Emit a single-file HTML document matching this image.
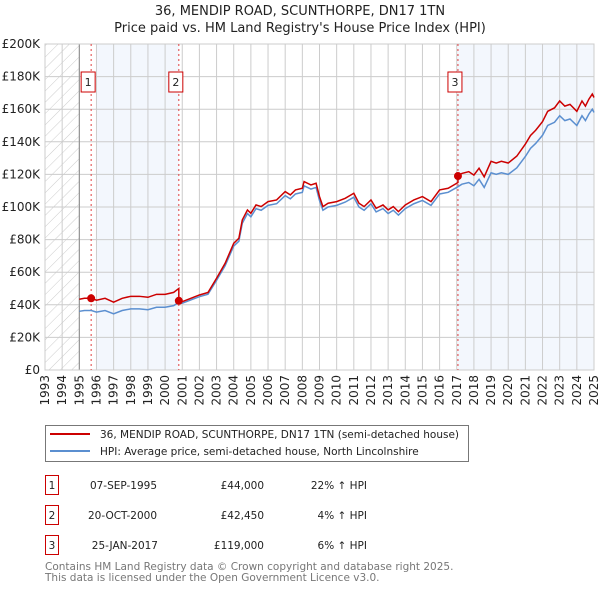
<!DOCTYPE html>
<html><head><meta charset="utf-8"><style>
body{margin:0;background:#fff;font-family:"DejaVu Sans","Liberation Sans",sans-serif;}
#wrap{position:relative;width:600px;height:590px;overflow:hidden;}
</style></head><body>
<div id="wrap">
<svg id="chart" width="600" height="590" xmlns="http://www.w3.org/2000/svg" font-family="DejaVu Sans, Liberation Sans, sans-serif">
<text x="300" y="15" text-anchor="middle" font-size="13" fill="#222">36, MENDIP ROAD, SCUNTHORPE, DN17 1TN</text>
<text x="300" y="32" text-anchor="middle" font-size="13" fill="#222">Price paid vs. HM Land Registry's House Price Index (HPI)</text>
<defs><pattern id="hatch" width="8" height="8" patternUnits="userSpaceOnUse" patternTransform="rotate(45)"><line x1="0" y1="0" x2="0" y2="8" stroke="#ccc" stroke-width="1"/></pattern></defs>
<g id="plot"></g>
<g>
<rect x="45.5" y="425.5" width="423" height="36" fill="#fff" stroke="#777"/>
<line x1="50" y1="434" x2="90" y2="434" stroke="#cc0000" stroke-width="2"/>
<text x="100" y="438" font-size="10.5" fill="#222">36, MENDIP ROAD, SCUNTHORPE, DN17 1TN (semi-detached house)</text>
<line x1="50" y1="451" x2="90" y2="451" stroke="#5b8fd0" stroke-width="2"/>
<text x="100" y="455" font-size="10.5" fill="#222">HPI: Average price, semi-detached house, North Lincolnshire</text>
</g>
<g font-size="10.5" fill="#222">
<rect x="45.5" y="475.5" width="13" height="19" fill="#fff" stroke="#cc0000"/><text x="52" y="489" text-anchor="middle">1</text>
<text x="157" y="489" text-anchor="end">07-SEP-1995</text><text x="264" y="489" text-anchor="end">£44,000</text><text x="367" y="489" text-anchor="end">22% ↑ HPI</text>
<rect x="45.5" y="505.5" width="13" height="19" fill="#fff" stroke="#cc0000"/><text x="52" y="519" text-anchor="middle">2</text>
<text x="157" y="519" text-anchor="end">20-OCT-2000</text><text x="264" y="519" text-anchor="end">£42,450</text><text x="367" y="519" text-anchor="end">4% ↑ HPI</text>
<rect x="45.5" y="535.5" width="13" height="19" fill="#fff" stroke="#cc0000"/><text x="52" y="549" text-anchor="middle">3</text>
<text x="158" y="549" text-anchor="end">25-JAN-2017</text><text x="264" y="549" text-anchor="end">£119,000</text><text x="367" y="549" text-anchor="end">6% ↑ HPI</text>
</g>
<text x="45" y="570" font-size="10.5" fill="#777">Contains HM Land Registry data © Crown copyright and database right 2025.</text>
<text x="45" y="581" font-size="10.5" fill="#777">This data is licensed under the Open Government Licence v3.0.</text>
</svg>
</div>
<script>
const hpiYears=[1995,1995.3,1995.7,1996,1996.5,1997,1997.5,1998,1998.5,1999,1999.5,2000,2000.5,2000.8,2001,2001.5,2002,2002.5,2003,2003.5,2004,2004.3,2004.5,2004.8,2005,2005.3,2005.6,2006,2006.5,2007,2007.3,2007.6,2008,2008.1,2008.5,2008.8,2009,2009.2,2009.5,2010,2010.5,2011,2011.3,2011.6,2012,2012.3,2012.7,2013,2013.3,2013.6,2014,2014.5,2015,2015.5,2016,2016.5,2017,2017.3,2017.7,2018,2018.3,2018.6,2019,2019.3,2019.6,2020,2020.5,2021,2021.3,2021.6,2022,2022.3,2022.7,2023,2023.3,2023.6,2024,2024.3,2024.5,2024.7,2024.9,2025];
const hpiValues=[36,36.5,36.5,35.5,36.5,34.5,36.5,37.5,37.5,37,38.5,38.5,39.5,41.5,41,43,45,46.5,55,64,76,79,90,96,94,99,98,101,102,107,105,108,109,113,111,112,104,98,100,101,103,106,100,98,102,97,99,96,98,95,99,102,104,101,108,109,112,114,115,113,117,112,121,120,121,120,124,131,136,139,144,150,152,156,153,154,150,156,153,157,160,158];
const saleYears=[1995.69,2000.8,2017.07];
const salePrices=[44000,42450,119000];
const saleLabels=["1","2","3"];
const yTicks=[0,20,40,60,80,100,120,140,160,180,200];
const xTicks=[1993,1994,1995,1996,1997,1998,1999,2000,2001,2002,2003,2004,2005,2006,2007,2008,2009,2010,2011,2012,2013,2014,2015,2016,2017,2018,2019,2020,2021,2022,2023,2024,2025];

const L=45,R=594,T=44,B=370;
const X=y=>L+(y-1993)/(2025-1993)*(R-L);
const Y=v=>B-v/200*(B-T);
const NS="http://www.w3.org/2000/svg";
const g=document.getElementById('plot');
function mk(t,a){const e=document.createElementNS(NS,t);for(const k in a)e.setAttribute(k,a[k]);g.appendChild(e);return e;}

let e=mk('rect',{x:X(1996),y:T,width:X(2000.8)-X(1996),height:B-T,fill:'#eef3fc',opacity:0.7});


e=mk('rect',{x:X(2017.07),y:T,width:R-X(2017.07),height:B-T,fill:'#eef3fc',opacity:0.7});


e=mk('rect',{x:L,y:T,width:X(1995)-L,height:B-T,fill:'url(#hatch)'});



yTicks.forEach(v=>{
 const l=mk('line',{x1:L,x2:R,y1:Y(v),y2:Y(v),stroke:'#ccc','stroke-width':1});
 
 
 const t=mk('text',{x:L-5,y:Y(v)+4,'text-anchor':'end','font-size':12,fill:'#222'});
 t.textContent=v===0?'£0':'£'+v+'K';
 
 
});
xTicks.forEach(v=>{
 const l=mk('line',{x1:X(v),x2:X(v),y1:T,y2:B,stroke:'#ccc','stroke-width':1});
 
 
 const t=mk('text',{x:0,y:0,'text-anchor':'end','font-size':12,fill:'#222',transform:`translate(${X(v)+4},${B+5}) rotate(-90)`});
 t.textContent=v;
 
 
});
e=mk('line',{x1:X(1995),x2:X(1995),y1:T,y2:B,stroke:'#888'});


e=mk('rect',{x:L,y:T,width:R-L,height:B-T,fill:'none',stroke:'#ccc'});



function hpiAt(y){for(let i=1;i<hpiYears.length;i++){if(y<=hpiYears[i]){const f=(y-hpiYears[i-1])/(hpiYears[i]-hpiYears[i-1]);return hpiValues[i-1]+f*(hpiValues[i]-hpiValues[i-1]);}}return hpiValues[hpiValues.length-1];}
const factors=saleYears.map((s,i)=>salePrices[i]/1000/hpiAt(s));
function factorAt(y){let k=0;for(let i=0;i<saleYears.length;i++)if(y>=saleYears[i])k=i;return factors[k];}

saleYears.forEach((s,i)=>{
 const l=mk('line',{x1:X(s),x2:X(s),y1:T,y2:B,stroke:'#e04040','stroke-dasharray':'2,3','stroke-width':1});
 
 
 const bx=X(s)-3;
 const r=mk('rect',{x:bx-7,y:72,width:14,height:20,fill:'#fff',stroke:'#cc0000'});
 
 
 const t=mk('text',{x:bx,y:86,'text-anchor':'middle','font-size':11,fill:'#222'});
 t.textContent=saleLabels[i];
 
 
});

const hp=mk('polyline',{points:hpiYears.map((y,i)=>X(y)+','+Y(hpiValues[i])).join(' '),fill:'none',stroke:'#5b8fd0','stroke-width':1.5});


const redPts=[];
hpiYears.forEach((y,i)=>{
 saleYears.forEach((s,j)=>{if(j>0&&s>hpiYears[i-1]&&s<=y){redPts.push(X(s)+','+Y(hpiAt(s)*factors[j-1]));redPts.push(X(s)+','+Y(salePrices[j]/1000));}});
 redPts.push(X(y)+','+Y(hpiValues[i]*factorAt(y)));
});
const rp=mk('polyline',{points:redPts.join(' '),fill:'none',stroke:'#cc0000','stroke-width':1.5});


saleYears.forEach((s,i)=>{
 const c=mk('circle',{cx:X(s),cy:Y(salePrices[i]/1000),r:4,fill:'#cc0000'});
 
 
});
</script>
</body></html>
